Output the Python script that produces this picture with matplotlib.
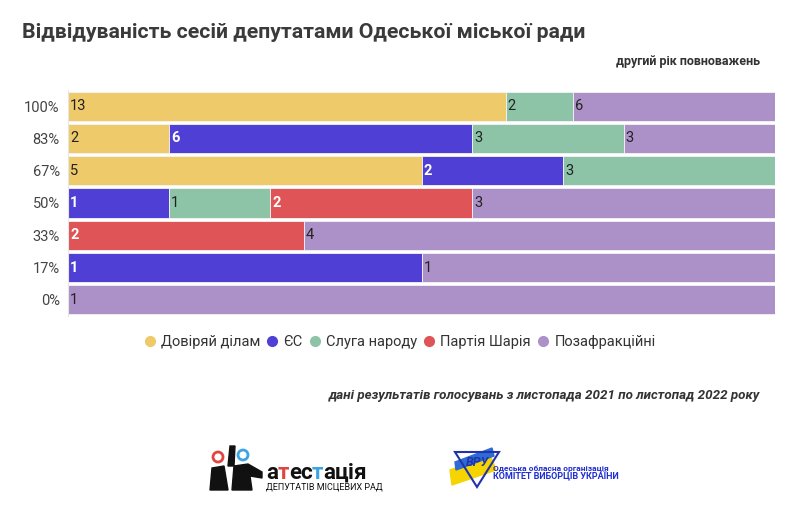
import numpy as np
import matplotlib.pyplot as plt
from matplotlib.patches import Circle, Polygon

plt.rcParams['font.family'] = ['Roboto', 'DejaVu Sans']

# data
rows = ['100%', '83%', '67%', '50%', '33%', '17%', '0%']
parties = ['Довіряй ділам', 'ЄС', 'Слуга народу', 'Партія Шарія', 'Позафракційні']
dovirai = [13, 2, 5, 0, 0, 0, 0]
es = [0, 6, 2, 1, 0, 1, 0]
sluga = [2, 3, 3, 1, 0, 0, 0]
shariy = [0, 0, 0, 2, 2, 0, 0]
pozafr = [6, 3, 0, 3, 4, 1, 1]

colors = ['#EFCA6A', '#503FD5', '#8DC4A8', '#DE5457', '#AB91C8']
txt_colors = ['#222222', 'white', '#222222', 'white', '#222222']

series = np.array([dovirai, es, sluga, shariy, pozafr], dtype=float)
totals = series.sum(axis=0)
shares = series / totals

fig = plt.figure(figsize=(8, 5.07), dpi=100)
ax = fig.add_axes([68/800, 1-316/507, (775-68)/800, (316-90)/507])

y = np.arange(len(rows))
left = np.zeros(len(rows))
for i, name in enumerate(parties):
    ax.barh(y, shares[i], left=left, height=0.9, color=colors[i],
            edgecolor='#f4f4f4', linewidth=0.6, label=name)
    for j in range(len(rows)):
        if series[i, j] > 0:
            ax.text(left[j] + 0.003, y[j], f'{int(series[i, j])}', va='center', ha='left',
                    fontsize=10.5, color=txt_colors[i],
                    fontweight='bold' if txt_colors[i] == 'white' else 'normal')
    left += shares[i]

ax.set_xlim(0, 1)
ax.set_ylim(len(rows) - 0.5, -0.5)
ax.set_yticks(y)
ax.set_yticklabels(rows, fontsize=10.5, color='#444444')
ax.tick_params(axis='y', length=0, pad=6)
ax.set_xticks([])
for s in ['top', 'right', 'bottom']:
    ax.spines[s].set_visible(False)
ax.spines['left'].set_color('#e6e6e6')
ax.spines['left'].set_linewidth(0.8)

# legend
handles = [plt.Line2D([], [], marker='o', ls='', ms=7, mfc=c, mec=c) for c in colors]
fig.legend(handles, parties, loc='center', bbox_to_anchor=(400/800, 1-342/507), ncol=5,
           frameon=False, fontsize=10.5, handlelength=0.7, handletextpad=0.4,
           columnspacing=0.5, labelcolor='#333333')

fig.text(22/800, 1-33/507, 'Відвідуваність сесій депутатами Одеської міської ради',
         fontsize=15.3, fontweight='bold', color='#3a3a3a', va='center', ha='left')
fig.text(760/800, 1-62/507, 'другий рік повноважень', fontsize=9, fontweight='bold',
         color='#333333', va='center', ha='right')
fig.text(760/800, 1-395/507, 'дані результатів голосувань з листопада 2021 по листопад 2022 року',
         fontsize=9.6, fontweight='bold', style='italic', color='#333333', va='center', ha='right')

# logos (rough)
lg = fig.add_axes([0, 0, 1, 1], zorder=-1)
lg.set_xlim(0, 800)
lg.set_ylim(507, 0)
lg.axis('off')
lg.add_patch(Circle((218, 457), 5, fill=False, ec='#E0463F', lw=2))
lg.add_patch(Circle((243, 455), 5, fill=False, ec='#3DA4E3', lw=2))
lg.add_patch(Polygon([[210, 490], [212, 468], [224, 466], [228, 490]], color='#111111'))
lg.add_patch(Polygon([[232, 490], [234, 466], [248, 464], [262, 472], [262, 478], [250, 476], [252, 490]],
                     color='#111111'))
lg.add_patch(Polygon([[228, 466], [230, 446], [235, 446], [234, 466]], color='#111111'))
x0 = 266
for ch, c in zip('атестація', ['#111111', '#E0463F', '#111111', '#111111', '#3DA4E3',
                              '#111111', '#111111', '#111111', '#111111']):
    t = lg.text(x0, 473, ch, fontsize=16, fontweight='bold', color=c, va='center', ha='left')
    x0 += 11.5 if ch not in 'ці' else (12.5 if ch == 'ц' else 6)
lg.text(266, 487, 'ДЕПУТАТІВ МІСЦЕВИХ РАД', fontsize=6.5, color='#111111', va='center', ha='left')

lg.add_patch(Polygon([[450, 470], [490, 455], [496, 470], [452, 485]], color='#F5D400'))
lg.add_patch(Polygon([[455, 462], [492, 448], [494, 456], [456, 470]], color='#2D6BD6'))
lg.add_patch(Polygon([[455, 452], [499, 452], [477, 487]], fill=False, ec='#2233AA', lw=1.5))
lg.text(477, 462, 'ВРУ', fontsize=9, fontweight='bold', color='#2233AA', ha='center', va='center',
        style='italic')
lg.text(493, 468, 'Одеська обласна організація', fontsize=6, fontweight='bold',
        color='#1f2fd0', va='center', ha='left')
lg.text(493, 477, 'КОМІТЕТ ВИБОРЦІВ УКРАЇНИ', fontsize=6.5, fontweight='bold',
        color='#1f2fd0', va='center', ha='left')

fig.savefig('out.png', dpi=100)
